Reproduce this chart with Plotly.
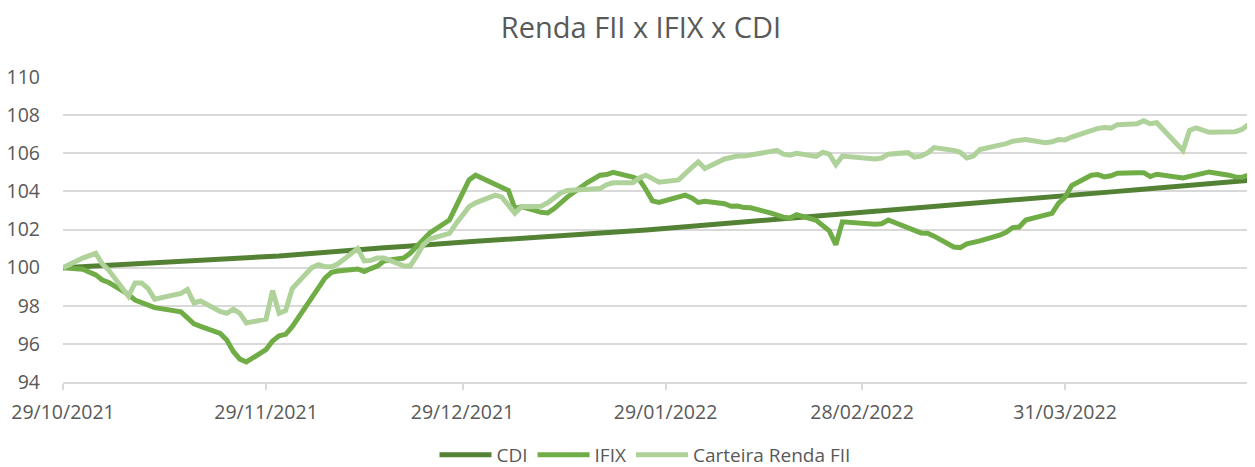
import plotly.graph_objects as go

dates = [
    "2021-10-29", "2021-11-01", "2021-11-03", "2021-11-04", "2021-11-05",
    "2021-11-08", "2021-11-09", "2021-11-10", "2021-11-11", "2021-11-12",
    "2021-11-16", "2021-11-17", "2021-11-18", "2021-11-19",
    "2021-11-22", "2021-11-23", "2021-11-24", "2021-11-25", "2021-11-26",
    "2021-11-29", "2021-11-30", "2021-12-01", "2021-12-02", "2021-12-03",
    "2021-12-06", "2021-12-07", "2021-12-08", "2021-12-09", "2021-12-10",
    "2021-12-13", "2021-12-14", "2021-12-15", "2021-12-16", "2021-12-17",
    "2021-12-20", "2021-12-21", "2021-12-22", "2021-12-23", "2021-12-24",
    "2021-12-27", "2021-12-28", "2021-12-29", "2021-12-30", "2021-12-31",
    "2022-01-03", "2022-01-04", "2022-01-05", "2022-01-06", "2022-01-07",
    "2022-01-10", "2022-01-11", "2022-01-12", "2022-01-13", "2022-01-14",
    "2022-01-17", "2022-01-18", "2022-01-19", "2022-01-20", "2022-01-21",
    "2022-01-24", "2022-01-25", "2022-01-26", "2022-01-27", "2022-01-28",
    "2022-01-31", "2022-02-01", "2022-02-02", "2022-02-03", "2022-02-04",
    "2022-02-07", "2022-02-08", "2022-02-09", "2022-02-10", "2022-02-11",
    "2022-02-14", "2022-02-15", "2022-02-16", "2022-02-17", "2022-02-18",
    "2022-02-21", "2022-02-22", "2022-02-23", "2022-02-24", "2022-02-25",
    "2022-03-02", "2022-03-03", "2022-03-04",
    "2022-03-07", "2022-03-08", "2022-03-09", "2022-03-10", "2022-03-11",
    "2022-03-14", "2022-03-15", "2022-03-16", "2022-03-17", "2022-03-18",
    "2022-03-21", "2022-03-22", "2022-03-23", "2022-03-24", "2022-03-25",
    "2022-03-28", "2022-03-29", "2022-03-30", "2022-03-31", "2022-04-01",
    "2022-04-04", "2022-04-05", "2022-04-06", "2022-04-07", "2022-04-08",
    "2022-04-11", "2022-04-12", "2022-04-13", "2022-04-14",
    "2022-04-18", "2022-04-19", "2022-04-20", "2022-04-22",
    "2022-04-25", "2022-04-26", "2022-04-27", "2022-04-28", "2022-04-29",
]

cdi = [
    100.00, 100.05, 100.09, 100.11, 100.13,
    100.18, 100.20, 100.22, 100.23, 100.25,
    100.32, 100.34, 100.36, 100.38,
    100.43, 100.45, 100.46, 100.48, 100.50,
    100.56, 100.59, 100.61, 100.64, 100.67,
    100.75, 100.77, 100.80, 100.83, 100.85,
    100.93, 100.96, 100.99, 101.01, 101.04,
    101.11, 101.14, 101.16, 101.19, 101.21,
    101.28, 101.31, 101.33, 101.36, 101.38,
    101.45, 101.47, 101.50, 101.52, 101.54,
    101.61, 101.63, 101.66, 101.68, 101.70,
    101.77, 101.79, 101.82, 101.84, 101.86,
    101.93, 101.95, 101.97, 102.00, 102.03,
    102.11, 102.14, 102.17, 102.20, 102.22,
    102.31, 102.34, 102.37, 102.39, 102.42,
    102.51, 102.53, 102.56, 102.59, 102.62,
    102.70, 102.73, 102.76, 102.79, 102.82,
    102.96, 102.98, 103.01,
    103.10, 103.12, 103.15, 103.18, 103.21,
    103.29, 103.32, 103.35, 103.37, 103.40,
    103.49, 103.51, 103.54, 103.57, 103.60,
    103.68, 103.71, 103.74, 103.77, 103.80,
    103.88, 103.91, 103.94, 103.97, 104.00,
    104.08, 104.11, 104.14, 104.17,
    104.28, 104.31, 104.34, 104.40,
    104.48, 104.51, 104.54, 104.57, 104.60,
]

ifix = [
    100.00, 99.92, 99.62, 99.35, 99.22,
    98.60, 98.30, 98.17, 98.05, 97.90,
    97.68, 97.40, 97.05, 96.92,
    96.55, 96.20, 95.60, 95.20, 95.05,
    95.70, 96.15, 96.42, 96.50, 96.90,
    98.45, 98.90, 99.45, 99.75, 99.82,
    99.93, 99.80, 99.95, 100.08, 100.35,
    100.50, 100.75, 101.10, 101.50, 101.82,
    102.50, 103.20, 104.00, 104.60, 104.85,
    104.35, 104.18, 104.05, 103.10, 103.20,
    102.90, 102.87, 103.10, 103.38, 103.70,
    104.45, 104.65, 104.85, 104.88, 105.00,
    104.75, 104.62, 104.10, 103.50, 103.42,
    103.72, 103.80, 103.66, 103.42, 103.48,
    103.35, 103.22, 103.23, 103.15, 103.14,
    102.87, 102.75, 102.65, 102.60, 102.78,
    102.48, 102.20, 101.93, 101.20, 102.40,
    102.28, 102.30, 102.50,
    102.10, 101.90, 101.82, 101.80, 101.65,
    101.08, 101.05, 101.25, 101.30, 101.40,
    101.70, 101.85, 102.10, 102.13, 102.50,
    102.76, 102.85, 103.37, 103.70, 104.30,
    104.85, 104.88, 104.76, 104.82, 104.95,
    104.98, 104.98, 104.78, 104.90,
    104.70, 104.78, 104.90, 105.02,
    104.85, 104.76, 104.74, 104.85, 105.05,
]

carteira = [
    100.00, 100.50, 100.75, 100.20, 99.86,
    98.50, 99.20, 99.20, 98.90, 98.35,
    98.65, 98.85, 98.15, 98.25,
    97.70, 97.60, 97.82, 97.60, 97.10,
    97.30, 98.80, 97.60, 97.75, 98.90,
    100.00, 100.15, 100.05, 100.05, 100.20,
    101.00, 100.35, 100.38, 100.50, 100.50,
    100.10, 100.08, 100.60, 101.20, 101.50,
    101.80, 102.30, 102.80, 103.20, 103.40,
    103.80, 103.70, 103.30, 102.85, 103.20,
    103.22, 103.40, 103.70, 103.92, 104.05,
    104.10, 104.12, 104.15, 104.35, 104.45,
    104.45, 104.70, 104.85, 104.70, 104.48,
    104.60, 104.95, 105.25, 105.55, 105.20,
    105.70, 105.80, 105.85, 105.85, 105.90,
    106.10, 106.15, 105.95, 105.90, 106.00,
    105.83, 106.05, 105.95, 105.40, 105.85,
    105.70, 105.75, 105.95,
    106.03, 105.80, 105.85, 106.02, 106.30,
    106.15, 106.05, 105.75, 105.85, 106.20,
    106.38, 106.50, 106.63, 106.67, 106.72,
    106.55, 106.60, 106.72, 106.70, 106.85,
    107.20, 107.30, 107.35, 107.32, 107.50,
    107.55, 107.70, 107.55, 107.60,
    106.15, 107.20, 107.33, 107.10,
    107.10, 107.13, 107.25, 107.50, 107.75,
]

tick_dates = ["2021-10-29", "2021-11-29", "2021-12-29", "2022-01-29", "2022-02-28", "2022-03-31"]
tick_labels = ["29/10/2021", "29/11/2021", "29/12/2021", "29/01/2022", "28/02/2022", "31/03/2022"]

series = [
    ("CDI", cdi, "#548235"),
    ("IFIX", ifix, "#70AD47"),
    ("Carteira Renda FII", carteira, "#AFD29A"),
]

FONT = "Open Sans"
TXT = "#595959"
GRID = "#D9D9D9"

# The page body has an 8px default margin, so the figure is sized to fit inside it.
W, H = 1247, 459

fig = go.Figure()
for name, vals, color in series:
    fig.add_trace(go.Scatter(
        x=dates, y=vals, name=name, mode="lines",
        line=dict(color=color, width=5),
    ))

fig.update_layout(
    width=W, height=H,
    margin=dict(l=55, r=0, t=69, b=85, autoexpand=False),
    paper_bgcolor="white", plot_bgcolor="white",
    font=dict(family=FONT, size=19, color=TXT),
    title=dict(text="Renda FII x IFIX x CDI", x=633 / W, xref="container",
               y=1 - 20 / H, yref="container", xanchor="center", yanchor="middle",
               font=dict(family=FONT, size=29, color=TXT)),
    legend=dict(orientation="h", x=637 / W, xref="container", xanchor="center",
                y=1 - 447 / H, yref="container", yanchor="middle",
                font=dict(family=FONT, size=19, color=TXT),
                itemwidth=52, tracegroupgap=0),
    showlegend=True,
)
fig.update_xaxes(
    type="date", range=["2021-10-29", "2022-04-29"],
    tickvals=tick_dates, ticktext=tick_labels,
    showgrid=False, showline=True, linecolor=GRID, linewidth=1.5,
    ticks="outside", ticklen=6, tickcolor=GRID, tickwidth=1.5,
    ticklabelstandoff=6, tickfont=dict(family=FONT, size=19.5, color=TXT),
    zeroline=False,
)
fig.update_yaxes(
    range=[94, 110], dtick=2, tick0=94,
    showgrid=True, gridcolor=GRID, gridwidth=1.5,
    showline=False, zeroline=False, ticks="",
    ticklabelstandoff=22, tickfont=dict(family=FONT, size=19.5, color=TXT),
)

fig.write_html("out.html")
